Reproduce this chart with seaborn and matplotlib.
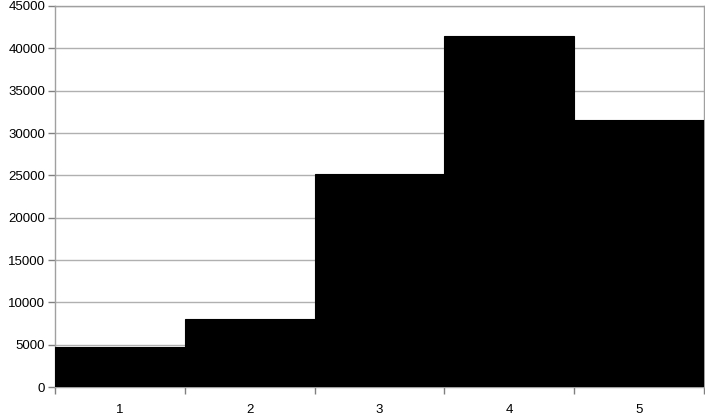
import matplotlib
matplotlib.use("Agg")
import matplotlib.pyplot as plt
import numpy as np
import pandas as pd
import seaborn as sns

categories = ["1", "2", "3", "4", "5"]
values = [4680, 7980, 25150, 41450, 31490]

df = pd.DataFrame({"cat": categories, "val": values})

sns.set_style("white")
plt.rcParams['font.family'] = ['Liberation Sans', 'DejaVu Sans']

fig = plt.figure(figsize=(7.05, 4.15), dpi=100)
ax = fig.add_axes([55 / 705, 1 - 387 / 415, 649 / 705, 381 / 415])

sns.barplot(data=df, x="cat", y="val", color="black", width=1.0,
            edgecolor="black", linewidth=0.8, saturation=1, ax=ax, zorder=3)

ax.set_xlim(-0.5, 4.5)
ax.set_ylim(0, 45000)
ax.set_yticks(np.arange(0, 45001, 5000))
ax.grid(axis="y", color="#b0b0b0", linewidth=1, zorder=0)
ax.set_axisbelow(True)

# category axis: labels in the middle, tick marks at bar borders
ax.set_xticks(np.arange(len(categories)))
ax.set_xticklabels(categories)
ax.set_xticks(np.arange(-0.5, len(categories)), minor=True)
ax.tick_params(axis="x", which="major", bottom=True, length=0, pad=12,
               labelsize=9.5, labelcolor="black")
ax.tick_params(axis="x", which="minor", bottom=True, length=5, color="#808080", width=1)
ax.tick_params(axis="y", left=True, length=5, color="#808080", width=1,
               labelsize=9.5, labelcolor="black", pad=2)

for s in ax.spines.values():
    s.set_color("#a0a0a0")
    s.set_linewidth(1)

ax.set_xlabel("")
ax.set_ylabel("")

fig.savefig("out.png", dpi=100)
